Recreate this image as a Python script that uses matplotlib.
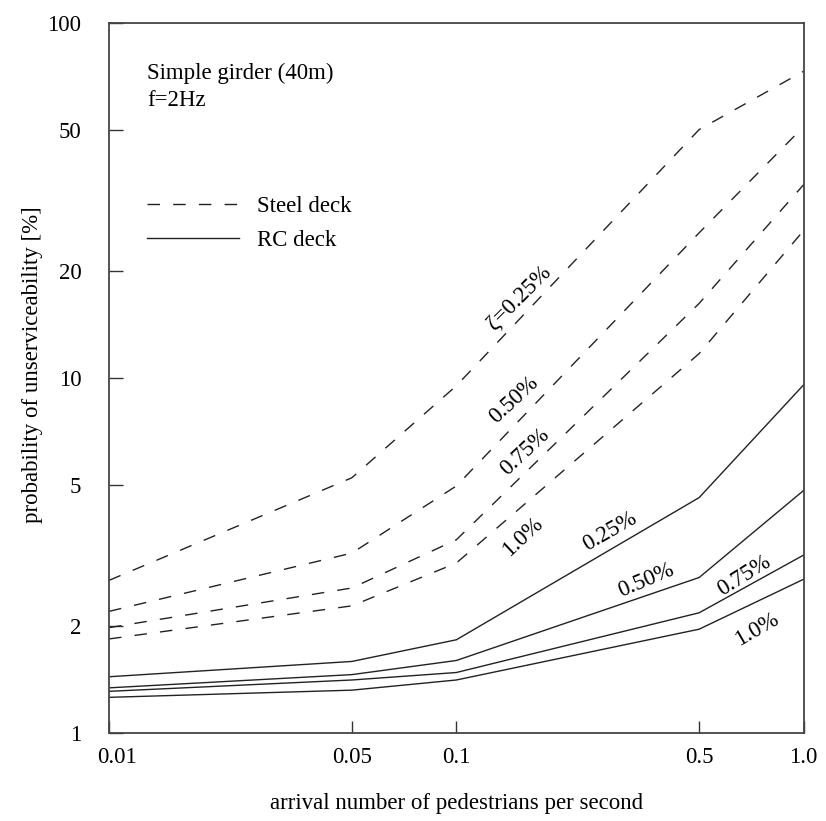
import matplotlib
matplotlib.use("Agg")
import matplotlib.pyplot as plt
import matplotlib.transforms as mtransforms
from matplotlib.ticker import FixedLocator, FixedFormatter, NullLocator

plt.rcParams['font.family'] = ['Liberation Serif', 'DejaVu Serif']

# arrival rate of pedestrians [1/s]
arrival = [0.01, 0.05, 0.1, 0.5, 1.0]

# probability of unserviceability [%], steel deck
steel_025 = [2.69, 5.23, 9.5, 50.0, 73.0]
steel_050 = [2.20, 3.21, 4.96, 25.6, 51.0]
steel_075 = [1.98, 2.56, 3.50, 16.2, 35.0]
steel_100 = [1.84, 2.28, 3.01, 11.7, 26.0]

# probability of unserviceability [%], RC deck
rc_025 = [1.44, 1.59, 1.83, 4.60, 9.56]
rc_050 = [1.34, 1.46, 1.60, 2.74, 4.82]
rc_075 = [1.31, 1.41, 1.48, 2.18, 3.17]
rc_100 = [1.26, 1.32, 1.41, 1.96, 2.71]

x_ticks = [0.01, 0.05, 0.1, 0.5, 1.0]
x_tick_labels = ["0.01", "0.05", "0.1", "0.5", "1.0"]
y_ticks = [1, 2, 5, 10, 20, 50, 100]
y_tick_labels = ["1", "2", "5", "10", "20", "50", "100"]

FS = 16.5
DASH = (0, (9, 9.5))

fig = plt.figure(figsize=(8.26, 8.21), dpi=100)
ax = fig.add_axes([0.132, 0.1072, 0.841, 0.8652])

steel_lines = []
for ys in (steel_025, steel_050, steel_075, steel_100):
    ln, = ax.plot(arrival, ys, color='#222222', lw=1.0, linestyle=DASH)
    steel_lines.append(ln)
rc_lines = []
for ys in (rc_025, rc_050, rc_075, rc_100):
    ln, = ax.plot(arrival, ys, color='#222222', lw=1.0, linestyle='-')
    rc_lines.append(ln)

ax.set_xscale('log')
ax.set_yscale('log')
ax.set_xlim(0.01, 1.0)
ax.set_ylim(1, 100)

ax.xaxis.set_major_locator(FixedLocator(x_ticks))
ax.xaxis.set_major_formatter(FixedFormatter(x_tick_labels))
ax.xaxis.set_minor_locator(NullLocator())
ax.yaxis.set_major_locator(FixedLocator(y_ticks))
ax.yaxis.set_major_formatter(FixedFormatter(y_tick_labels))
ax.yaxis.set_minor_locator(NullLocator())

ax.tick_params(axis='x', direction='in', length=9, width=1.0, color='#333333',
               labelsize=FS, pad=10)
ax.tick_params(axis='y', direction='in', length=10, width=1.0, color='#333333',
               labelsize=FS, pad=20)
for sp in ax.spines.values():
    sp.set_color('#444444')
    sp.set_linewidth(1.3)

# nudge the first x tick label off the corner
first_tick = ax.xaxis.get_major_ticks()[0]
first_tick.label1.set_transform(
    first_tick.label1.get_transform()
    + mtransforms.ScaledTranslation(8 / 100, 0, fig.dpi_scale_trans))

ax.set_xlabel("arrival number of pedestrians per second", fontsize=FS, labelpad=18)
ax.set_ylabel("probability of unserviceability [%]", fontsize=FS)
ax.yaxis.set_label_coords(-0.095, 0.518)

# header text
ax.text(0.055, 0.929, "Simple girder (40m)", transform=ax.transAxes,
        fontsize=FS, ha='left', va='center')
ax.text(0.055, 0.891, "f=2Hz", transform=ax.transAxes,
        fontsize=FS, ha='left', va='center')

# legend
ax.legend([steel_lines[0], rc_lines[0]], ["Steel deck", "RC deck"],
          loc='upper left', bbox_to_anchor=(0.042, 0.769), frameon=False,
          fontsize=FS, handlelength=4.0, handletextpad=0.8, labelspacing=0.57,
          borderaxespad=0)

# curve labels (damping ratio)
lab_kw = dict(transform=ax.transAxes, fontsize=FS, ha='center', va='center',
              rotation_mode='anchor')
ax.text(0.590, 0.612, "ζ=0.25%", rotation=45, **lab_kw)
ax.text(0.583, 0.469, "0.50%", rotation=43, **lab_kw)
ax.text(0.599, 0.396, "0.75%", rotation=43, **lab_kw)
ax.text(0.596, 0.276, "1.0%", rotation=43, **lab_kw)

ax.text(0.721, 0.283, "0.25%", rotation=30, **lab_kw)
ax.text(0.773, 0.215, "0.50%", rotation=23, **lab_kw)
ax.text(0.915, 0.222, "0.75%", rotation=32, **lab_kw)
ax.text(0.932, 0.146, "1.0%", rotation=30, **lab_kw)

fig.savefig("out.png", dpi=100)
